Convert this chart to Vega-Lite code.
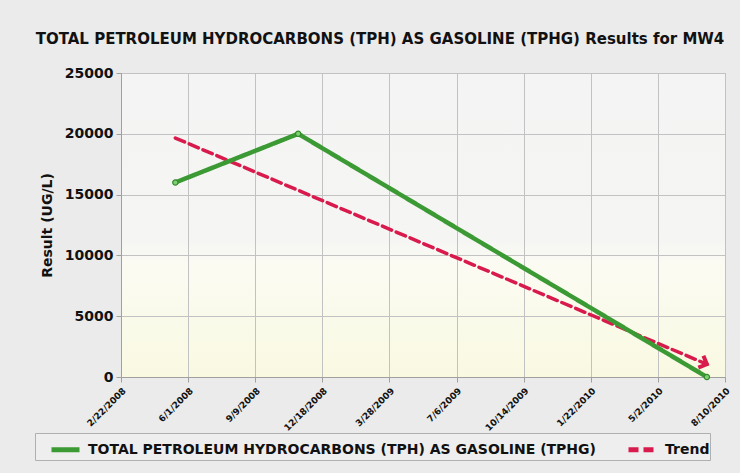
{
  "$schema": "https://vega.github.io/schema/vega-lite/v6.json",
  "width": 604,
  "height": 304,
  "autosize": {"type": "none"},
  "padding": {"left": 121, "top": 73, "right": 15, "bottom": 96},
  "title": {
    "text": "TOTAL PETROLEUM HYDROCARBONS (TPH) AS GASOLINE (TPHG) Results for MW4",
    "anchor": "middle",
    "dx": -43,
    "offset": 19,
    "fontSize": 15,
    "fontWeight": "bold",
    "font": "DejaVu Sans",
    "color": "#111111"
  },
  "datasets": {
    "measured": [
      {"date": "2008-05-13", "value": 16000, "series": "TOTAL PETROLEUM HYDROCARBONS (TPH) AS GASOLINE (TPHG)"},
      {"date": "2008-11-12", "value": 20000, "series": "TOTAL PETROLEUM HYDROCARBONS (TPH) AS GASOLINE (TPHG)"},
      {"date": "2010-07-14", "value": 0, "series": "TOTAL PETROLEUM HYDROCARBONS (TPH) AS GASOLINE (TPHG)"}
    ],
    "trend": [
      {"date": "2008-05-13", "value": 19650, "series": "Trend"},
      {"date": "2010-07-14", "value": 1050, "series": "Trend"}
    ]
  },
  "encoding": {
    "x": {
      "field": "date",
      "type": "temporal",
      "scale": {
        "type": "utc",
        "domain": [
          {"year": 2008, "month": 2, "date": 22, "utc": true},
          {"year": 2010, "month": 8, "date": 10, "utc": true}
        ]
      },
      "axis": {
        "title": null,
        "values": [
          {"year": 2008, "month": 2, "date": 22, "utc": true},
          {"year": 2008, "month": 6, "date": 1, "utc": true},
          {"year": 2008, "month": 9, "date": 9, "utc": true},
          {"year": 2008, "month": 12, "date": 18, "utc": true},
          {"year": 2009, "month": 3, "date": 28, "utc": true},
          {"year": 2009, "month": 7, "date": 6, "utc": true},
          {"year": 2009, "month": 10, "date": 14, "utc": true},
          {"year": 2010, "month": 1, "date": 22, "utc": true},
          {"year": 2010, "month": 5, "date": 2, "utc": true},
          {"year": 2010, "month": 8, "date": 10, "utc": true}
        ],
        "format": "%-m/%-d/%Y",
        "labelAngle": -45,
        "labelAlign": "right",
        "labelBaseline": "top",
        "labelFontSize": 9,
        "labelPadding": 4,
        "tickSize": 5,
        "labelOverlap": false,
        "labelBound": false,
        "labelFlush": false
      }
    },
    "y": {
      "field": "value",
      "type": "quantitative",
      "scale": {"domain": [0, 25000], "nice": false, "zero": true},
      "axis": {
        "title": "Result (UG/L)",
        "values": [0, 5000, 10000, 15000, 20000, 25000],
        "format": "d",
        "labelFontSize": 14,
        "labelPadding": 3,
        "tickSize": 5,
        "titleFontSize": 14,
        "titleFontWeight": "bold",
        "titleFont": "DejaVu Sans",
        "titlePadding": 10,
        "titleColor": "#111111"
      }
    }
  },
  "layer": [
    {
      "data": {"name": "trend"},
      "mark": {"type": "line", "strokeWidth": 3.5, "strokeCap": "round"},
      "encoding": {
        "color": {
          "field": "series",
          "type": "nominal",
          "scale": {
            "domain": ["TOTAL PETROLEUM HYDROCARBONS (TPH) AS GASOLINE (TPHG)", "Trend"],
            "range": ["#3c9a34", "#d81b4c"]
          },
          "legend": {
            "title": null,
            "orient": "none",
            "legendX": -86,
            "legendY": 360,
            "direction": "horizontal"
          }
        },
        "strokeDash": {
          "field": "series",
          "type": "nominal",
          "scale": {
            "domain": ["TOTAL PETROLEUM HYDROCARBONS (TPH) AS GASOLINE (TPHG)", "Trend"],
            "range": [[1, 0], [10, 5]]
          },
          "legend": {
            "title": null,
            "orient": "none",
            "legendX": -86,
            "legendY": 360,
            "direction": "horizontal"
          }
        }
      }
    },
    {
      "data": {"name": "measured"},
      "mark": {"type": "line", "strokeWidth": 4.5, "strokeCap": "round"},
      "encoding": {
        "color": {
          "field": "series",
          "type": "nominal",
          "scale": {
            "domain": ["TOTAL PETROLEUM HYDROCARBONS (TPH) AS GASOLINE (TPHG)", "Trend"],
            "range": ["#3c9a34", "#d81b4c"]
          },
          "legend": {
            "title": null,
            "orient": "none",
            "legendX": -86,
            "legendY": 360,
            "direction": "horizontal"
          }
        },
        "strokeDash": {
          "field": "series",
          "type": "nominal",
          "scale": {
            "domain": ["TOTAL PETROLEUM HYDROCARBONS (TPH) AS GASOLINE (TPHG)", "Trend"],
            "range": [[1, 0], [10, 5]]
          },
          "legend": {
            "title": null,
            "orient": "none",
            "legendX": -86,
            "legendY": 360,
            "direction": "horizontal"
          }
        }
      }
    },
    {
      "data": {"name": "measured"},
      "mark": {"type": "point", "filled": true, "size": 28, "fill": "#7fcf72", "stroke": "#2f8a2a", "strokeWidth": 1.2, "opacity": 1}
    },
    {
      "data": {"name": "trend"},
      "transform": [{"filter": "datum.value < 5000"}],
      "mark": {
        "type": "point",
        "shape": "M-1,-1L0,0L-1,1",
        "filled": false,
        "stroke": "#d81b4c",
        "strokeWidth": 4,
        "size": 170,
        "angle": 23,
        "opacity": 1
      }
    }
  ],
  "config": {
    "font": "DejaVu Sans",
    "background": "#ebebeb",
    "legend": {
      "symbolType": "stroke",
      "symbolStrokeWidth": 5,
      "symbolSize": 784,
      "labelFont": "DejaVu Sans",
      "labelFontSize": 14,
      "labelFontWeight": "bold",
      "labelColor": "#111111",
      "labelLimit": 700,
      "labelOffset": 6,
      "columnPadding": 16,
      "padding": 0,
      "symbolOffset": 14,
      "strokeColor": "#b0b0b0",
      "fillColor": "#eeeeee"
    },
    "view": {
      "stroke": "#b8b8b8",
      "fill": {
        "gradient": "linear",
        "x1": 0, "y1": 0, "x2": 0, "y2": 1,
        "stops": [
          {"offset": 0, "color": "#f4f4f4"},
          {"offset": 0.55, "color": "#f5f5f3"},
          {"offset": 0.62, "color": "#fbfbf3"},
          {"offset": 1, "color": "#f9f9e2"}
        ]
      }
    },
    "axis": {
      "grid": true,
      "gridColor": "#c2c2c2",
      "gridWidth": 1,
      "domainColor": "#a0a0a0",
      "tickColor": "#a0a0a0",
      "labelColor": "#111111",
      "labelFontWeight": "bold",
      "labelFont": "DejaVu Sans"
    }
  }
}
